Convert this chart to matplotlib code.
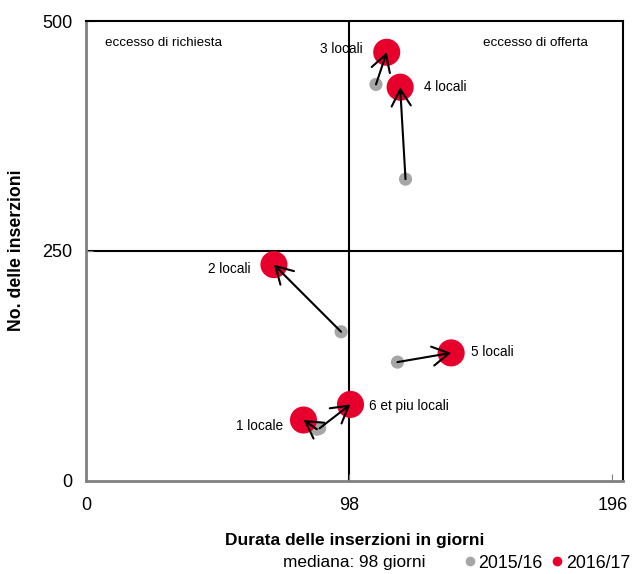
import matplotlib
matplotlib.use("Agg")
import matplotlib.pyplot as plt
from matplotlib.lines import Line2D

plt.rcParams["font.family"] = ["Liberation Sans", "DejaVu Sans"]

# =============================================================================
# Data

labels = ["1 locale", "2 locali", "3 locali", "4 locali", "5 locali", "6 et piu locali"]
dur_1516 = [86, 95, 108, 119, 116, 87]
ins_1516 = [56, 162, 431, 328, 129, 57]
dur_1617 = [81, 70, 112, 117, 136, 98.5]
ins_1617 = [66, 235, 466, 428, 139, 83]

MEDIAN_DUR = 98
MID_INS = 250
xticks = [0, 98, 196]
yticks = [0, 250, 500]

# label offsets (points) relative to the 2016/17 marker
label_offsets = [(-15, -4), (-17, -3), (-17, 2), (17, 0), (14, 1), (13, -1)]
label_ha = ["right", "right", "right", "left", "left", "left"]

GREY = "#a6a6a6"
RED = "#e8002d"

# =============================================================================
# Plot

fg = plt.figure(figsize=(6.34, 5.74), dpi=100)
ax = fg.add_axes([86 / 634, 1 - 480.7 / 574, (623 - 86) / 634, (480.7 - 21) / 574])

ax.set_xlim(0, 200)
ax.set_ylim(0, 500)

ax.axvline(MEDIAN_DUR, color="k", lw=1.5, zorder=1)
ax.axhline(MID_INS, color="k", lw=1.5, zorder=1)

ax.scatter(dur_1516, ins_1516, s=90, c=GREY, edgecolors="none", zorder=3)
ax.scatter(dur_1617, ins_1617, s=380, c=RED, edgecolors="none", zorder=3)

for x0, y0, x1, y1 in zip(dur_1516, ins_1516, dur_1617, ins_1617):
    ax.annotate(
        "",
        xy=(x1, y1),
        xytext=(x0, y0),
        arrowprops=dict(arrowstyle="->,head_length=0.4,head_width=0.23", color="k",
                        lw=1.5, shrinkA=0, shrinkB=0, mutation_scale=30),
        zorder=4,
    )

for lab, x, y, off, ha in zip(labels, dur_1617, ins_1617, label_offsets, label_ha):
    ax.annotate(lab, (x, y), xytext=off, textcoords="offset points",
                ha=ha, va="center", fontsize=9.8, zorder=5)

ax.text(7, 476, "eccesso di richiesta", fontsize=9.6, va="center", ha="left")
ax.text(148, 476, "eccesso di offerta", fontsize=9.6, va="center", ha="left")

for side in ["left", "bottom"]:
    ax.spines[side].set_color("#808080")
    ax.spines[side].set_linewidth(2)
for side in ["top", "right"]:
    ax.spines[side].set_color("k")
    ax.spines[side].set_linewidth(1.5)

ax.set_xticks(xticks)
ax.set_yticks(yticks)
ax.tick_params(axis="both", direction="in", length=5, color="#808080", labelsize=13)
ax.tick_params(axis="x", pad=12)
ax.tick_params(axis="y", pad=10)

fg.text(17 / 634, 1 - 250 / 574, "No. delle inserzioni", rotation=90,
        fontsize=12.7, fontweight="bold", ha="center", va="center")

fg.text(354.5 / 634, 1 - 540 / 574, "Durata delle inserzioni in giorni",
        fontsize=12.5, fontweight="bold", ha="center", va="center")
fg.text(354.5 / 634, 1 - 563 / 574, "mediana: 98 giorni",
        fontsize=12.4, ha="center", va="center")


def hack_handle(c):
    "Legend handle for a dot"
    return Line2D([], [], ls="none", marker="o", markersize=7,
                  markerfacecolor=c, markeredgecolor="none")


fg.legend(
    handles=[hack_handle(GREY), hack_handle(RED)],
    labels=["2015/16", "2016/17"],
    loc="center right",
    bbox_to_anchor=(630 / 634, 1 - 563 / 574),
    ncol=2,
    frameon=False,
    fontsize=12.8,
    handlelength=0.6,
    handletextpad=0.2,
    columnspacing=0.5,
    borderaxespad=0,
    borderpad=0,
)

fg.savefig("out.png", dpi=100)
